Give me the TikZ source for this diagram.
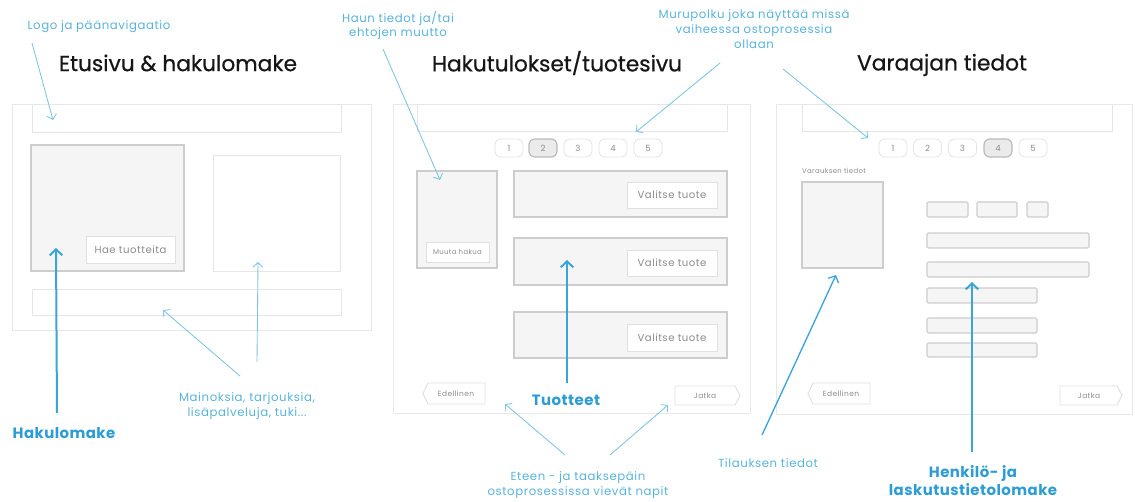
\documentclass[tikz,border=0pt]{standalone}
\usepackage{fontspec}
\setmainfont{Poppins}
\newfontfamily\spacedfont{Poppins}[LetterSpace=5]
\newfontfamily\keyfont{Poppins}[LetterSpace=3]
\newfontfamily\headfont{Poppins}[FakeBold=0.6]
\usetikzlibrary{arrows.meta,fit}

\definecolor{frameC}{HTML}{E8E8E8}
\definecolor{barC}{HTML}{E6E6E6}
\definecolor{boxC}{HTML}{CDCDCD}
\definecolor{boxF}{HTML}{F5F5F5}
\definecolor{btnC}{HTML}{E0E0E0}
\definecolor{btnT}{HTML}{8C8C8C}
\definecolor{pillC}{HTML}{E4E4E4}
\definecolor{pillOnC}{HTML}{BBBBBB}
\definecolor{pillF}{HTML}{EBEBEB}
\definecolor{titleC}{HTML}{161616}
\definecolor{noteC}{HTML}{58B3DC}
\definecolor{keyC}{HTML}{2B9CD5}
\definecolor{thinC}{HTML}{7CC5E3}
\definecolor{thickC}{HTML}{3AA6D8}

\begin{document}
\begin{tikzpicture}[x=0.75pt,y=-0.75pt,
  pageframe/.style={draw=frameC, line width=0.7pt, fill=white, inner sep=0pt},
  navbar/.style={draw=barC, line width=0.6pt, fill=white, inner sep=0pt},
  greybox/.style={draw=boxC, fill=boxF, line width=1pt, inner sep=0pt},
  plainbox/.style={draw=barC, fill=white, line width=0.6pt, inner sep=0pt},
  field/.style={draw=boxC, fill=boxF, line width=0.8pt, rounded corners=1pt, inner sep=0pt},
  btn/.style={draw=btnC, fill=white, line width=0.7pt, inner sep=0pt},
  btntext/.style={text=btnT, inner sep=0pt},
  bigbtn/.style={btntext, font=\spacedfont\fontsize{7.6}{9}\selectfont},
  smallbtn/.style={btntext, font=\spacedfont\fontsize{5.6}{7}\selectfont},
  tinybtn/.style={btntext, font=\spacedfont\fontsize{5.2}{6}\selectfont},
  pill/.style={draw=pillC, fill=white, line width=0.6pt, rounded corners=4.5pt,
    minimum width=21pt, minimum height=13.5pt, inner sep=0pt, text=btnT,
    font=\fontsize{6.4}{7}\selectfont},
  pillon/.style={pill, fill=pillF, draw=pillOnC, line width=0.9pt},
  heading/.style={font=\headfont\fontsize{16.3}{19}\selectfont, text=titleC, inner sep=0pt},
  note/.style={font=\spacedfont\fontsize{8.8}{11.2}\selectfont, text=noteC, align=center, inner sep=0pt},
  keylabel/.style={font=\keyfont\bfseries\fontsize{11.2}{13.5}\selectfont, text=keyC, align=center, inner sep=0pt},
  thin/.style={draw=thinC, line width=0.65pt, -{Straight Barb[length=3.5pt,width=7.5pt]}},
  mid/.style={draw=thickC, line width=1pt, -{Straight Barb[length=4pt,width=8.5pt]}},
  thick/.style={draw=thickC, line width=1.5pt, -{Straight Barb[length=4.5pt,width=9.5pt]}}
]
\useasboundingbox (0,0) rectangle (1135,502);

% ---------- Etusivu & hakulomake ----------
\node[heading] (t1) at (178,63) {Etusivu \& hakulomake};
\node[pageframe, fit={(12,104) (371,330)}] (p1) {};
\node[navbar, fit={(32,104) (341,132)}] (p1nav) {};
\node[greybox, fit={(31,145) (184,271)}] (p1search) {};
\node[btn, fit={(86,236) (175,263)}] (p1hae) {};
\node[bigbtn] (p1haetxt) at (p1hae.center) {Hae tuotteita};
\node[plainbox, fit={(213,155) (340,271)}] (p1side) {};
\node[navbar, fit={(32,289) (341,315)}] (p1foot) {};

% ---------- Hakutulokset/tuotesivu ----------
\node[heading] (t2) at (557,63) {Hakutulokset/tuotesivu};
\node[pageframe, fit={(393,104) (750,413)}] (p2) {};
\node[navbar, fit={(417,104) (727,131)}] (p2nav) {};
\node[pill]   (p2s1) at (509,148) {1};
\node[pillon] (p2s2) at (543,148) {2};
\node[pill]   (p2s3) at (578,148) {3};
\node[pill]   (p2s4) at (613,148) {4};
\node[pill]   (p2s5) at (648,148) {5};
\node[greybox, fit={(417,171) (497,268)}] (p2filter) {};
\node[btn, fit={(426,242) (489,262)}] (p2muuta) {};
\node[tinybtn] (p2muutatxt) at (p2muuta.center) {Muuta hakua};
\node[greybox, fit={(514,171) (727,217)}] (p2prod1) {};
\node[greybox, fit={(514,238) (727,285)}] (p2prod2) {};
\node[greybox, fit={(514,312) (727,358)}] (p2prod3) {};
\node[btn, fit={(627,182) (717,208)}] (p2val1) {};
\node[btn, fit={(627,250) (717,276)}] (p2val2) {};
\node[btn, fit={(627,324) (717,351)}] (p2val3) {};
\node[bigbtn] (p2val1txt) at (p2val1.center) {Valitse tuote};
\node[bigbtn] (p2val2txt) at (p2val2.center) {Valitse tuote};
\node[bigbtn] (p2val3txt) at (p2val3.center) {Valitse tuote};
% back / forward buttons
\draw[btn] (428,383) -- (485,383) -- (485,404) -- (428,404) -- (423,393.5) -- cycle;
\node[smallbtn] (p2edel) at (456,393.5) {Edellinen};
\draw[btn] (675,386) -- (735,386) -- (740,395.5) -- (735,405) -- (675,405) -- cycle;
\node[smallbtn] (p2jatka) at (705,395.5) {Jatka};

% ---------- Varaajan tiedot ----------
\node[heading] (t3) at (942,65) {Varaajan tiedot};
\node[pageframe, fit={(776,104) (1132,414)}] (p3) {};
\node[navbar, fit={(802,104) (1112,131)}] (p3nav) {};
\node[pill]   (p3s1) at (893,148) {1};
\node[pill]   (p3s2) at (927.5,148) {2};
\node[pill]   (p3s3) at (962.5,148) {3};
\node[pillon] (p3s4) at (998,148) {4};
\node[pill]   (p3s5) at (1033,148) {5};
\node[tinybtn] (p3vartxt) at (834,171) {Varauksen tiedot};
\node[greybox, fit={(802,182) (883,268)}] (p3order) {};
\node[field, fit={(927,202) (968,217)}] (p3f1) {};
\node[field, fit={(977,202) (1017,217)}] (p3f2) {};
\node[field, fit={(1027,202) (1048,217)}] (p3f3) {};
\node[field, fit={(927,233) (1089,248)}] (p3f4) {};
\node[field, fit={(927,262) (1089,277)}] (p3f5) {};
\node[field, fit={(927,288) (1037,303)}] (p3f6) {};
\node[field, fit={(927,318) (1037,333)}] (p3f7) {};
\node[field, fit={(927,343) (1037,357)}] (p3f8) {};
\draw[btn] (813,383) -- (870,383) -- (870,404) -- (813,404) -- (808,393.5) -- cycle;
\node[smallbtn] (p3edel) at (841,393.5) {Edellinen};
\draw[btn] (1060,386) -- (1117,386) -- (1122,395.5) -- (1117,405) -- (1060,405) -- cycle;
\node[smallbtn] (p3jatka) at (1089,395.5) {Jatka};

% ---------- annotations ----------
\node[note] (nLogo) at (99,27) {Logo ja päänavigaatio};
\node[note] (nHaun) at (398,25.5) {Haun tiedot ja/tai\\ehtojen muutto};
\node[note] (nMuru) at (754,29) {Murupolku joka näyttää missä\\vaiheessa ostoprosessia\\ollaan};
\node[note] (nMain) at (247,406) {Mainoksia, tarjouksia,\\lisäpalveluja, tuki...};
\node[note] (nEteen) at (578,485) {Eteen - ja taaksepäin\\ostoprosessissa vievät napit};
\node[note] (nTil) at (768,463.5) {Tilauksen tiedot};
\node[keylabel] (kHaku) at (64,433) {Hakulomake};
\node[keylabel] (kTuot) at (566,400) {Tuotteet};
\node[keylabel] (kHenk) at (973,481) {Henkilö- ja\\laskutustietolomake};

% arrow ends
\coordinate (aLogoS) at (32,43);    \coordinate (aLogoE) at (53,120);
\coordinate (aHakuS) at (57,413);   \coordinate (aHakuE) at (56,248);
\coordinate (aMainS1) at (240,376); \coordinate (aMainE1) at (163,310);
\coordinate (aMainS2) at (257,362); \coordinate (aMainE2) at (258,262);
\coordinate (aHaunS) at (383,49);   \coordinate (aHaunE) at (440,180);
\coordinate (aMuruS1) at (720,63);  \coordinate (aMuruE1) at (636,132);
\coordinate (aMuruS2) at (783,69);  \coordinate (aMuruE2) at (868,138);
\coordinate (aTuotS) at (567,383);  \coordinate (aTuotE) at (567,260);
\coordinate (aEteS1) at (565,455);  \coordinate (aEteE1) at (505,404);
\coordinate (aEteS2) at (610,455);  \coordinate (aEteE2) at (668,405);
\coordinate (aTilS) at (762,435);   \coordinate (aTilE) at (836,275);
\coordinate (aHenkS) at (972,452);  \coordinate (aHenkE) at (972,282);

\draw[thin]  (aLogoS) -- (aLogoE);
\draw[thick] (aHakuS) -- (aHakuE);
\draw[thin]  (aMainS1) -- (aMainE1);
\draw[thin]  (aMainS2) -- (aMainE2);
\draw[thin]  (aHaunS) -- (aHaunE);
\draw[thin]  (aMuruS1) -- (aMuruE1);
\draw[thin]  (aMuruS2) -- (aMuruE2);
\draw[thick] (aTuotS) -- (aTuotE);
\draw[thin]  (aEteS1) -- (aEteE1);
\draw[thin]  (aEteS2) -- (aEteE2);
\draw[mid]   (aTilS) -- (aTilE);
\draw[thick] (aHenkS) -- (aHenkE);
\end{tikzpicture}
\end{document}
